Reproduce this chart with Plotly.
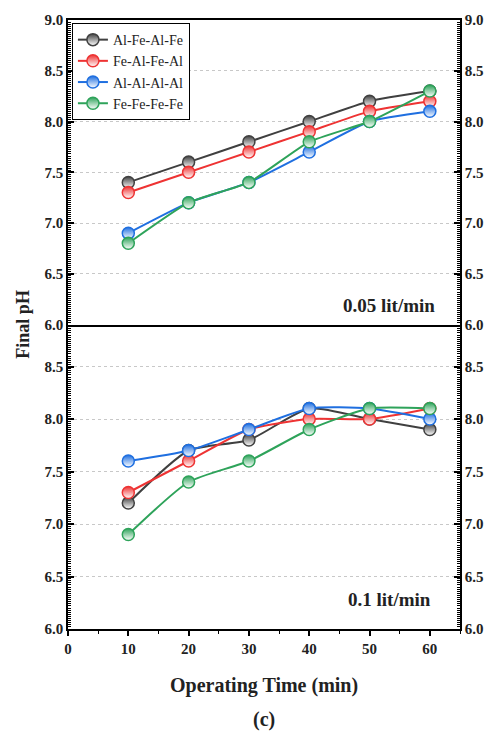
import plotly.graph_objects as go

time_min = [10, 20, 30, 40, 50, 60]
series_names = ["Al-Fe-Al-Fe", "Fe-Al-Fe-Al", "Al-Al-Al-Al", "Fe-Fe-Fe-Fe"]
colors = ["#404040", "#ee3333", "#1f6fe0", "#2ea35a"]

# 0.05 lit/min (top panel)
ph_005 = [
    [7.4, 7.6, 7.8, 8.0, 8.2, 8.3],
    [7.3, 7.5, 7.7, 7.9, 8.1, 8.2],
    [6.9, 7.2, 7.4, 7.7, 8.0, 8.1],
    [6.8, 7.2, 7.4, 7.8, 8.0, 8.3],
]
# 0.1 lit/min (bottom panel)
ph_01 = [
    [7.2, 7.7, 7.8, 8.1, 8.0, 7.9],
    [7.3, 7.6, 7.9, 8.0, 8.0, 8.1],
    [7.6, 7.7, 7.9, 8.1, 8.1, 8.0],
    [6.9, 7.4, 7.6, 7.9, 8.1, 8.1],
]

y_ticks = [6.0, 6.5, 7.0, 7.5, 8.0, 8.5, 9.0]
y_ticklabels = ["6.0", "6.5", "7.0", "7.5", "8.0", "8.5", "9.0"]
x_ticks = [0, 10, 20, 30, 40, 50, 60]

serif = "Liberation Serif"

fig = go.Figure()

def marker(c):
    return dict(symbol="circle", size=12, color=c,
                line=dict(color=c, width=1.5),
                gradient=dict(type="vertical", color="white"))

for i, name in enumerate(series_names):
    fig.add_trace(go.Scatter(
        x=time_min, y=ph_005[i], name=name, mode="lines+markers",
        line=dict(color=colors[i], width=2, shape="spline", smoothing=0.5),
        marker=marker(colors[i]), xaxis="x2", yaxis="y2", legendgroup=name,
    ))
for i, name in enumerate(series_names):
    fig.add_trace(go.Scatter(
        x=time_min, y=ph_01[i], name=name, mode="lines+markers",
        line=dict(color=colors[i], width=2, shape="spline", smoothing=0.6),
        marker=marker(colors[i]), xaxis="x", yaxis="y", legendgroup=name,
        showlegend=False,
    ))
# invisible traces so the right-hand axes are drawn
for ya, xa in (("y3", "x"), ("y4", "x2")):
    fig.add_trace(go.Scatter(x=[None], y=[None], xaxis=xa, yaxis=ya,
                             showlegend=False, hoverinfo="skip",
                             mode="markers"))

tickfont = dict(family=serif, size=15, color="#222", weight="bold")

def yax(rng, domain, side="left", grid=True, overlay=None, anchor=None):
    d = dict(range=rng, domain=domain, tickvals=y_ticks, ticktext=y_ticklabels,
             ticks="inside", ticklen=6, tickwidth=1.5, tickcolor="black",
             minor=dict(dtick=0.02, tick0=6, ticks="inside", ticklen=3,
                        tickwidth=1, tickcolor="black"),
             showline=True, linecolor="black", linewidth=1.5,
             tickfont=tickfont, side=side, zeroline=False, automargin=False,
             showgrid=grid, gridcolor="#c8c8c8", griddash="dot", gridwidth=1)
    if overlay:
        d["overlaying"] = overlay
    if anchor:
        d["anchor"] = anchor
    return d

fig.update_layout(
    width=488, height=733,
    margin=dict(l=68, r=28, t=20, b=104),
    plot_bgcolor="white", paper_bgcolor="white",
    xaxis=dict(range=[0, 65], domain=[0, 1], anchor="y", tickvals=x_ticks,
               ticks="outside", ticklen=5, tickwidth=1.5, tickcolor="black",
               minor=dict(dtick=5, tick0=0, ticks="outside", ticklen=3,
                          tickwidth=1, tickcolor="black"),
               showline=True, linecolor="black", linewidth=1.5, mirror=False,
               showgrid=False, zeroline=False, tickfont=tickfont,
               automargin=False),
    xaxis2=dict(range=[0, 65], domain=[0, 1], anchor="y2", showticklabels=False,
                ticks="", showline=True, linecolor="black", linewidth=2,
                mirror=True, showgrid=False, zeroline=False, automargin=False),
    xaxis3=dict(range=[0, 65], overlaying="x2", anchor="y2", side="top",
                tickvals=x_ticks, ticks="inside", ticklen=5, tickwidth=1.5,
                tickcolor="black",
                minor=dict(dtick=5, tick0=0, ticks="inside", ticklen=3,
                           tickwidth=1, tickcolor="black"),
                showticklabels=False, showline=False, showgrid=False,
                zeroline=False, automargin=False),
    yaxis=yax([6, 8.9], [0, 0.5], anchor="x"),
    yaxis2=yax([6, 9], [0.5, 1], anchor="x2"),
    yaxis3=yax([6, 8.9], [0, 0.5], side="right", grid=False, overlay="y",
               anchor="x"),
    yaxis4=yax([6, 9], [0.5, 1], side="right", grid=False, overlay="y2",
               anchor="x2"),
    legend=dict(x=0.01, y=0.995, xanchor="left", yanchor="top",
                bgcolor="white", bordercolor="black", borderwidth=1,
                font=dict(family=serif, size=14, color="#222"),
                tracegroupgap=0, itemwidth=30),
    showlegend=True,
)

bold = dict(family=serif, color="#222", weight="bold")
fig.add_annotation(text="0.05 lit/min", xref="x2 domain", yref="y2",
                   x=0.941, y=6.19, xanchor="right", yanchor="middle",
                   showarrow=False, font=dict(size=19, **bold))
fig.add_annotation(text="0.1 lit/min", xref="x domain", yref="y",
                   x=0.931, y=6.28, xanchor="right", yanchor="middle",
                   showarrow=False, font=dict(size=19, **bold))
fig.add_annotation(text="Final pH", xref="paper", yref="paper", x=-0.117, y=0.5,
                   textangle=-90, showarrow=False, xanchor="center",
                   yanchor="middle", font=dict(size=18, **bold))
fig.add_annotation(text="Operating Time (min)", xref="paper", yref="paper",
                   x=0.5, y=-0.092, showarrow=False, xanchor="center",
                   yanchor="middle", font=dict(size=20, **bold))
fig.add_annotation(text="(c)", xref="paper", yref="paper",
                   x=0.5, y=-0.148, showarrow=False, xanchor="center",
                   yanchor="middle", font=dict(size=20, **bold))

fig.write_html("out.html")
